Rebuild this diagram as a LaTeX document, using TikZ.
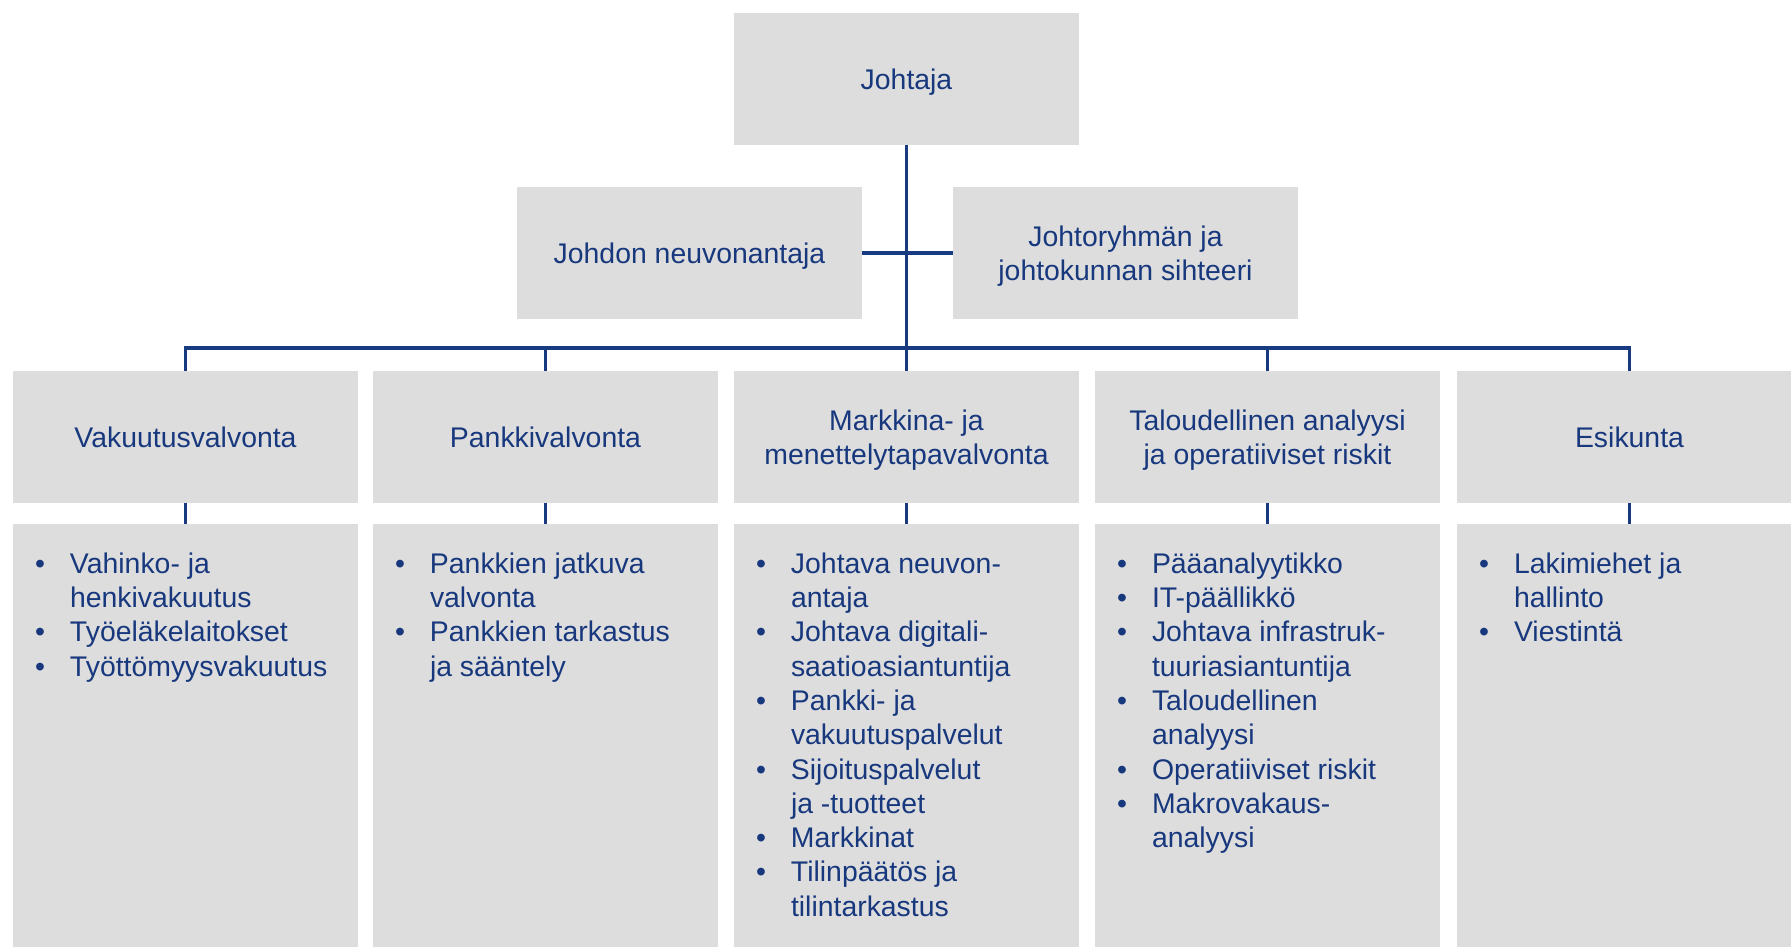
\documentclass[tikz,border=0pt]{standalone}
\usepackage{fontspec}
\setmainfont{Liberation Sans}
\definecolor{boxgray}{RGB}{221,221,221}
\definecolor{linecol}{RGB}{24,58,128}
\definecolor{txtcol}{RGB}{24,56,126}
\newcommand\mybul{\makebox[35pt][l]{•}}
\newcommand\myind{\hspace*{35pt}}
\tikzset{
  box/.style={fill=boxgray, draw=none, inner sep=0pt, minimum width=345pt, minimum height=132pt,
    text=txtcol, font=\fontsize{28.4}{34.3}\selectfont, align=center, text depth=0pt},
  tall/.style={box, minimum height=440pt},
  listtext/.style={inner sep=0pt, anchor=north west, text=txtcol, align=left,
    font=\fontsize{28.4}{34.3}\selectfont},
  conn/.style={draw=linecol, line width=3.4pt}
}
\begin{document}
\begin{tikzpicture}[x=1pt,y=-1pt]
\useasboundingbox (0,0) rectangle (1791,946);
\clip (0,0) rectangle (1791,946);
% top
\node[box] (jo) at (906.5,79) {Johtaja};
\node[box] (adv) at (689.5,253) {Johdon neuvonantaja};
\node[box] (sec) at (1125.5,253) {Johtoryhmän ja\\johtokunnan sihteeri};
% level 2
\node[box] (v1) at (185.5,437) {Vakuutusvalvonta};
\node[box] (v2) at (545.5,437) {Pankkivalvonta};
\node[box] (v3) at (906.5,437) {Markkina- ja\\menettelytapavalvonta};
\node[box] (v4) at (1267.5,437) {Taloudellinen analyysi\\ja operatiiviset riskit};
\node[box] (v5) at (1629.5,437) {Esikunta};
% level 3
\node[tall, anchor=north] (l1) at (185.5,524) {};
\node[tall, anchor=north] (l2) at (545.5,524) {};
\node[tall, anchor=north] (l3) at (906.5,524) {};
\node[tall, anchor=north] (l4) at (1267.5,524) {};
\node[tall, anchor=north] (l5) at (1629.5,524) {};
\node[listtext] (t1) at ([xshift=22pt,yshift=-25pt]l1.north west)
  {\strut\mybul Vahinko- ja\\ \myind henkivakuutus\\ \mybul Työeläkelaitokset\\ \mybul Työttömyysvakuutus};
\node[listtext] (t2) at ([xshift=22pt,yshift=-25pt]l2.north west)
  {\strut\mybul Pankkien jatkuva\\ \myind valvonta\\ \mybul Pankkien tarkastus\\ \myind ja sääntely};
\node[listtext] (t3) at ([xshift=22pt,yshift=-25pt]l3.north west)
  {\strut\mybul Johtava neuvon-\\ \myind antaja\\ \mybul Johtava digitali-\\ \myind saatioasiantuntija\\
   \mybul Pankki- ja\\ \myind vakuutuspalvelut\\ \mybul Sijoituspalvelut\\ \myind ja -tuotteet\\
   \mybul Markkinat\\ \mybul Tilinpäätös ja\\ \myind tilintarkastus};
\node[listtext] (t4) at ([xshift=22pt,yshift=-25pt]l4.north west)
  {\strut\mybul Pääanalyytikko\\ \mybul IT-päällikkö\\ \mybul Johtava infrastruk-\\ \myind tuuriasiantuntija\\
   \mybul Taloudellinen\\ \myind analyysi\\ \mybul Operatiiviset riskit\\ \mybul Makrovakaus-\\ \myind analyysi};
\node[listtext] (t5) at ([xshift=22pt,yshift=-25pt]l5.north west)
  {\strut\mybul Lakimiehet ja\\ \myind hallinto\\ \mybul Viestintä};
% connectors
\coordinate (bus) at (906.5,348);
\draw[conn] (jo.south) -- (bus);
\draw[conn] (adv.east) -- (sec.west);
\draw[conn] (v1.north) |- (bus) -| (v5.north);
\draw[conn] (v2.north) -- (v2.north |- bus);
\draw[conn] (v3.north) -- (bus);
\draw[conn] (v4.north) -- (v4.north |- bus);
\foreach \i in {1,...,5}{\draw[conn] (v\i.south) -- (l\i.north);}
\end{tikzpicture}
\end{document}
